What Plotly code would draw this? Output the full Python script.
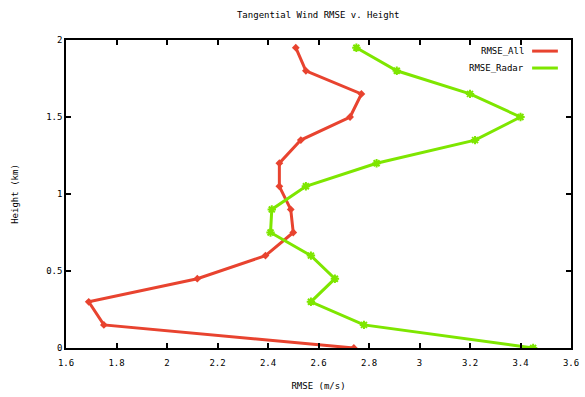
import plotly.graph_objects as go

height_km = [0, 0.15, 0.3, 0.45, 0.6, 0.75, 0.9, 1.05, 1.2, 1.35, 1.5, 1.65, 1.8, 1.95]
rmse_all = [2.74, 1.75, 1.69, 2.12, 2.39, 2.50, 2.49, 2.445, 2.445, 2.53, 2.725, 2.77, 2.55, 2.51]
rmse_radar = [3.45, 2.78, 2.57, 2.665, 2.57, 2.41, 2.415, 2.55, 2.83, 3.22, 3.40, 3.20, 2.91, 2.75]
series_names = ["RMSE_All", "RMSE_Radar"]
x_ticks = [1.6, 1.8, 2, 2.2, 2.4, 2.6, 2.8, 3, 3.2, 3.4, 3.6]
y_ticks = [0, 0.5, 1, 1.5, 2]

RED = "#e8432f"
GREEN = "#7ee600"
FONT = "DejaVu Sans Mono"
FS = 9

fig = go.Figure()
fig.add_trace(go.Scatter(x=rmse_all, y=height_km, mode="lines+markers", name=series_names[0],
                         line=dict(color=RED, width=3),
                         marker=dict(symbol="diamond", size=6, color=RED)))
fig.add_trace(go.Scatter(x=rmse_radar, y=height_km, mode="lines+markers", name=series_names[1],
                         line=dict(color=GREEN, width=3),
                         marker=dict(symbol="asterisk-open", size=7, color=GREEN,
                                     line=dict(color=GREEN, width=2))))

axis_common = dict(showgrid=False, zeroline=False, showline=True, mirror="allticks",
                   linecolor="black", linewidth=1.5, ticks="inside", ticklen=5,
                   tickcolor="black", tickwidth=1.5, automargin=False,
                   tickfont=dict(family=FONT, size=FS, color="black"))

fig.update_xaxes(range=[1.6, 3.6], tickvals=x_ticks, ticktext=[f"{v:g}" for v in x_ticks],
                 ticklabelstandoff=5,
                 title=dict(text="RMSE (m/s)", font=dict(family=FONT, size=FS, color="black"), standoff=16),
                 **axis_common)
fig.update_yaxes(range=[0, 2], tickvals=y_ticks, ticktext=[f"{v:g}" for v in y_ticks],
                 title=dict(text="Height (km)", font=dict(family=FONT, size=FS, color="black"), standoff=26),
                 **axis_common)

# legend drawn gnuplot-style: text right-aligned, sample line on the right
legend_rows = [(series_names[0], RED, 0.964), (series_names[1], GREEN, 0.909)]
shapes = []
annotations = []
for name, color, yy in legend_rows:
    annotations.append(dict(x=0.911, y=yy, xref="paper", yref="paper", text=name, showarrow=False,
                            xanchor="right", yanchor="middle",
                            font=dict(family=FONT, size=FS, color="black")))
    shapes.append(dict(type="line", xref="paper", yref="paper", x0=0.923, x1=0.974, y0=yy, y1=yy,
                       line=dict(color=color, width=3)))

fig.update_layout(
    width=585, height=397,
    margin=dict(l=66, r=14, t=40, b=49),
    paper_bgcolor="white", plot_bgcolor="white",
    showlegend=False,
    title=dict(text="Tangential Wind RMSE v. Height", x=0.544, xanchor="center", y=0.962, yanchor="middle",
               font=dict(family=FONT, size=FS, color="black")),
    shapes=shapes, annotations=annotations,
)

fig.write_html("out.html", config={"displayModeBar": False},
               post_script="document.body.style.margin='0';document.body.style.overflow='hidden';")
